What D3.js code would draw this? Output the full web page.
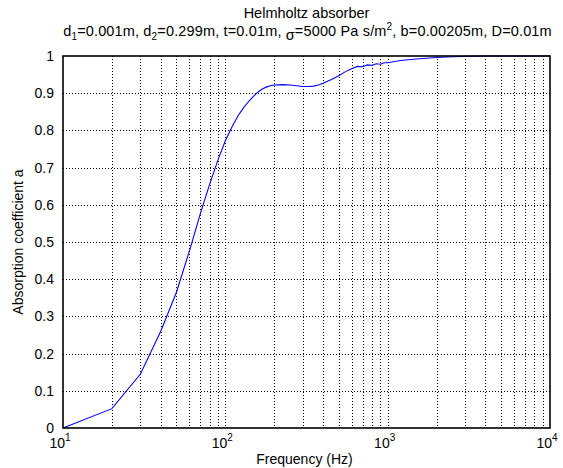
<!DOCTYPE html>
<html lang="en">
<head>
  <meta charset="utf-8">
  <script src="https://d3js.org/d3.v7.min.js"></script>
  <style>
    body { margin: 0; background: #fff; }
    svg text { font-family: "Liberation Sans", Arial, sans-serif; fill: #000; }
    .grid line { stroke: #000; stroke-width: 1; stroke-dasharray: 1,2; shape-rendering: crispEdges; }
  </style>
</head>
<body>
<svg id="chart" width="563" height="468"></svg>

<script>
  // frequency (Hz) and absorption coefficient
  var freq = [10, 20, 30, 40, 50, 60, 70, 80, 90, 100, 110, 120, 130, 140, 150, 160, 170, 180, 190, 200,
              225, 250, 275, 300, 325, 350, 375, 400, 450, 500, 550, 600, 650, 700, 750, 800, 850, 900, 950, 1000,
              1200, 1500, 2000, 2500, 3000, 4000, 5000, 7000, 10000];
  var alpha = [0, 0.052, 0.145, 0.26, 0.365, 0.475, 0.575, 0.655, 0.72, 0.772, 0.81, 0.84, 0.862, 0.879, 0.893, 0.904, 0.912, 0.917, 0.92, 0.922,
               0.923, 0.922, 0.92, 0.918, 0.918, 0.919, 0.922, 0.927, 0.937, 0.947, 0.958, 0.966, 0.972, 0.971, 0.976, 0.975, 0.979, 0.978, 0.982, 0.982,
               0.988, 0.992, 0.996, 0.998, 0.999, 1, 1, 1, 1];
  var yTicks = [0, 0.1, 0.2, 0.3, 0.4, 0.5, 0.6, 0.7, 0.8, 0.9, 1];
  var xDecades = [1, 2, 3, 4];

  // plot box (note: "top" is reserved on window, so use other names)
  var pLeft = 63, pRight = 550, pTop = 56, pBottom = 428;
  var fs = "14px", fsSmall = "10px";
  var svg = d3.select("#chart");

  var x = d3.scaleLog().domain([10, 10000]).range([pLeft, pRight]);
  var y = d3.scaleLinear().domain([0, 1]).range([pBottom, pTop]);

  // grid lines: all log ticks on x, tenths on y
  var xGrid = x.ticks().filter(function(d) { return d > 10 && d < 10000; });
  var grid = svg.append("g").attr("class", "grid");
  grid.selectAll(".vx").data(xGrid).enter().append("line")
      .attr("x1", function(d) { return Math.round(x(d)) + 0.5; })
      .attr("x2", function(d) { return Math.round(x(d)) + 0.5; })
      .attr("y1", pTop).attr("y2", pBottom);
  grid.selectAll(".hy").data(yTicks.slice(1, -1)).enter().append("line")
      .attr("y1", function(d) { return Math.round(y(d)) + 0.5; })
      .attr("y2", function(d) { return Math.round(y(d)) + 0.5; })
      .attr("x1", pLeft).attr("x2", pRight);

  // the curve
  var pts = freq.map(function(f, i) { return [f, alpha[i]]; });
  svg.append("path")
      .datum(pts)
      .attr("fill", "none")
      .attr("stroke", "#0000ff")
      .attr("stroke-width", 1.1)
      .attr("d", d3.line().x(function(d) { return x(d[0]); }).y(function(d) { return y(d[1]); }));

  // axes box
  svg.append("rect")
      .attr("x", pLeft).attr("y", pTop)
      .attr("width", pRight - pLeft).attr("height", pBottom - pTop)
      .attr("fill", "none").attr("stroke", "#000").attr("stroke-width", 1.6);

  // y tick labels
  svg.selectAll(".ylab").data(yTicks).enter().append("text")
      .attr("x", pLeft - 9)
      .attr("y", function(d) { return y(d) + 5; })
      .attr("text-anchor", "end")
      .style("font-size", fs)
      .text(function(d) { return d; });

  // x tick labels 10^n
  var xl = svg.selectAll(".xlab").data(xDecades).enter().append("text")
      .attr("x", function(d) { return x(Math.pow(10, d)) - 3; })
      .attr("y", pBottom + 20)
      .attr("text-anchor", "middle")
      .style("font-size", fs);
  xl.append("tspan").text("10");
  xl.append("tspan").attr("dy", -7).style("font-size", fsSmall).text(function(d) { return d; });

  // axis titles
  svg.append("text")
      .attr("x", (pLeft + pRight) / 2 - 2).attr("y", 464)
      .attr("text-anchor", "middle")
      .style("font-size", fs)
      .text("Frequency (Hz)");
  svg.append("text")
      .attr("transform", "translate(23," + (pTop + pBottom) / 2 + ") rotate(-90)")
      .attr("text-anchor", "middle")
      .style("font-size", fs)
      .text("Absorption coefficient a");

  // titles
  svg.append("text")
      .attr("x", (pLeft + pRight) / 2).attr("y", 18)
      .attr("text-anchor", "middle")
      .style("font-size", "14.5px")
      .text("Helmholtz absorber");

  var sub = svg.append("text")
      .attr("x", (pLeft + pRight) / 2 + 1).attr("y", 36)
      .attr("text-anchor", "middle")
      .style("font-size", "14.5px")
      .style("letter-spacing", "0.15px");
  var parts = [
    ["d", 0], ["1", 4], ["=0.001m, d", -4], ["2", 4], ["=0.299m, t=0.01m, ", -4],
    ["\u03c3", 4], ["=5000 Pa s/m", -4], ["2", -6], [", b=0.00205m, D=0.01m", 6]
  ];
  parts.forEach(function(p) {
    var small = (p[0] === "1" || p[0] === "2");
    sub.append("tspan").attr("dy", p[1]).style("font-size", small ? fsSmall : "14.5px").text(p[0]);
  });
</script>
</body>
</html>
